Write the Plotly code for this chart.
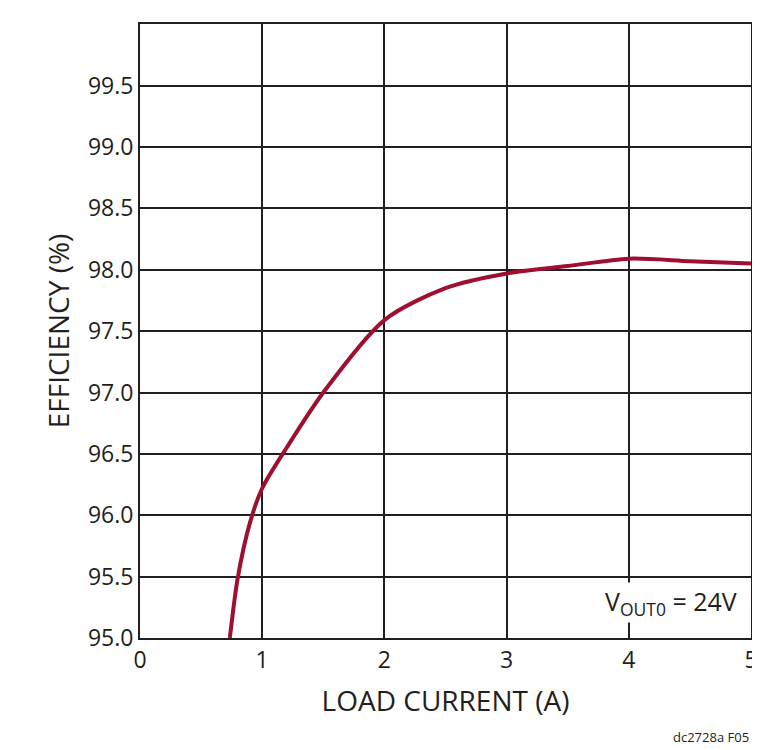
import plotly.graph_objects as go

load_current = [0.735, 0.8, 0.9, 1.0, 1.2, 1.5, 2.0, 2.5, 3.0, 3.5, 4.0, 4.5, 5.0]
efficiency = [95.0, 95.49, 95.94, 96.22, 96.55, 97.0, 97.59, 97.85, 97.97, 98.03, 98.09, 98.07, 98.05]

x_ticks = [0, 1, 2, 3, 4, 5]
y_ticks = [95.0 + 0.5 * i for i in range(11)]

font = "Open Sans, Liberation Sans, sans-serif"

fig = go.Figure()
fig.add_trace(go.Scatter(
    x=load_current, y=efficiency, mode="lines",
    line=dict(color="#9E0F30", width=4, shape="spline", smoothing=0.8),
    showlegend=False, cliponaxis=True,
))

fig.update_layout(
    width=760, height=750,
    margin=dict(l=132, r=10, t=16, b=120),
    plot_bgcolor="white", paper_bgcolor="white",
    font=dict(family=font, size=23, color="#231F20"),
    xaxis=dict(
        range=[0, 5], tickvals=x_ticks, ticks="", showgrid=True,
        gridcolor="#231F20", gridwidth=1.5, showline=True, linecolor="#231F20",
        linewidth=2, mirror=True, zeroline=False,
        title=dict(text="LOAD CURRENT (A)", standoff=18),
    ),
    yaxis=dict(
        range=[95, 100.002], tickvals=y_ticks, tickformat=".1f", ticks="",
        showgrid=True, gridcolor="#231F20", gridwidth=1.5, showline=True,
        linecolor="#231F20", linewidth=2, mirror=True, zeroline=False,
        title=dict(text="EFFICIENCY (%)", standoff=10),
    ),
    annotations=[
        dict(x=4.9, y=95.12, xref="x", yref="y", xanchor="right", yanchor="bottom",
             text="V<sub>OUT0</sub> = 24V", showarrow=False,
             font=dict(size=25), bgcolor="white"),
        dict(x=1, y=0, xref="paper", yref="paper", xanchor="right", yanchor="top",
             yshift=-88, text="dc2728a F05", showarrow=False, font=dict(size=13)),
    ],
)

fig.write_html("out.html")
